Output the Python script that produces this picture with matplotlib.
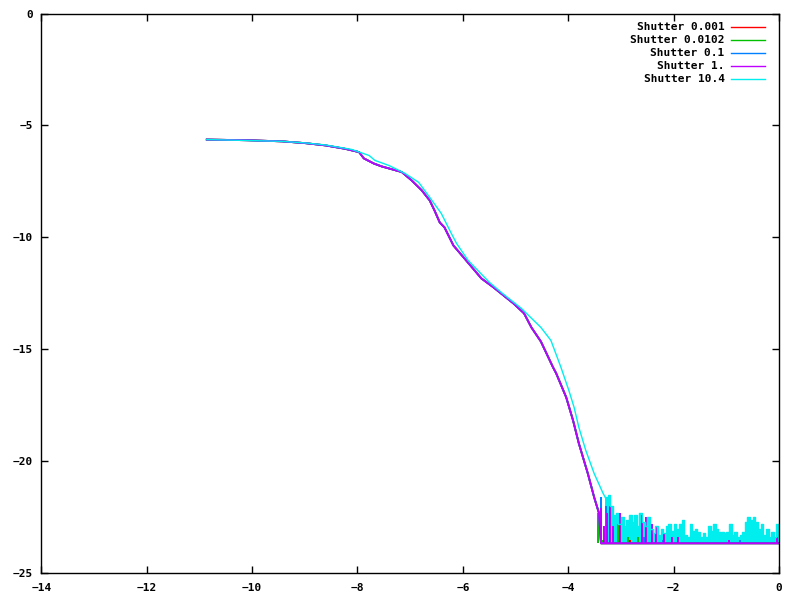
import matplotlib
matplotlib.use("Agg")
import matplotlib.pyplot as plt
import numpy as np

FLOOR = -23.66

labels = ["Shutter 0.001", "Shutter 0.0102", "Shutter 0.1", "Shutter 1.", "Shutter 10.4"]
colors = ["#ff0000", "#00c000", "#0080ff", "#c000ff", "#00eeee"]

# main decay curve (shared by the four short shutters)
main_x = [-10.86, -10.09, -9.43, -8.99, -8.61, -8.24, -7.97, -7.88, -7.69, -7.54,
          -7.16, -6.97, -6.78, -6.63, -6.54, -6.44, -6.35, -6.18, -5.97, -5.65,
          -5.42, -5.04, -4.84, -4.70, -4.52, -4.29, -4.23, -4.04, -3.91, -3.80,
          -3.63, -3.51, -3.42, -3.38, 0.0]
main_y = [-5.63, -5.66, -5.71, -5.79, -5.89, -6.04, -6.19, -6.47, -6.70, -6.83,
          -7.08, -7.46, -7.90, -8.35, -8.79, -9.33, -9.55, -10.36, -10.94, -11.83,
          -12.23, -12.95, -13.39, -14.02, -14.65, -15.80, -16.07, -17.14, -18.17, -19.20,
          -20.54, -21.60, -22.30, -23.66, -23.66]

# cyan (10.4) curve
cyan_x = [-10.86, -10.09, -9.43, -8.99, -8.61, -8.11, -7.78, -7.67, -7.40, -7.10,
          -6.84, -6.63, -6.41, -6.22, -6.12, -5.90, -5.50, -5.27, -4.89, -4.52,
          -4.33, -4.14, -3.99, -3.89, -3.80, -3.67, -3.51, -3.34]
cyan_y = [-5.63, -5.67, -5.71, -5.78, -5.87, -6.07, -6.34, -6.56, -6.79, -7.14,
          -7.54, -8.21, -8.93, -9.82, -10.27, -11.03, -12.00, -12.46, -13.17, -14.02,
          -14.60, -15.80, -16.83, -17.59, -18.48, -19.50, -20.54, -21.43]

# cyan noise tops on the floor, x = -3.30 ... 0.00 every 0.05
cyan_noise_x = [round(-3.30 + 0.05 * k, 2) for k in range(67)]
cyan_noise_top = [-21.6, -21.5, -22.0, -22.4, -22.3, -22.8, -22.5, -22.9, -22.6, -22.4,
                  -22.7, -22.4, -22.9, -22.3, -22.7, -22.9, -22.5, -23.0, -23.2, -22.9,
                  -23.3, -23.0, -23.2, -22.9, -22.8, -23.1, -22.8, -23.0, -22.8, -22.6,
                  -23.3, -23.4, -22.8, -23.1, -23.0, -23.15, -23.4, -23.2, -23.4, -22.9,
                  -23.1, -22.8, -23.0, -23.15, -23.15, -23.2, -23.15, -22.8, -23.3, -23.15,
                  -23.4, -23.3, -23.15, -22.7, -22.5, -22.6, -22.5, -22.7, -23.0, -22.8,
                  -23.3, -23.0, -23.4, -23.15, -23.4, -22.8, -23.3]

# spikes of the other series near the floor
red_spike_x = [-3.38, -3.31, -3.01, -2.82]
red_spike_y = [-22.2, -23.2, -22.8, -23.5]
green_spike_x = [-3.44, -3.36, -3.06, -2.87, -2.68]
green_spike_y = [-22.3, -23.5, -22.8, -23.4, -23.4]
blue_spike_x = [-3.38, -3.29, -3.16, -2.57, -2.21, -0.74]
blue_spike_y = [-21.6, -22.0, -23.2, -23.4, -23.5, -23.5]
magenta_spike_x = [-3.38, -3.33, -3.27, -3.21, -3.16, -3.01, -2.61, -2.53, -2.42,
                   -2.33, -2.19, -2.04, -1.91, -0.96, -0.04]
magenta_spike_y = [-22.1, -22.9, -22.3, -22.0, -22.9, -22.3, -22.4, -22.5, -22.8,
                   -22.9, -23.2, -23.4, -23.4, -23.5, -23.4]

x_ticks = [-14, -12, -10, -8, -6, -4, -2, 0]
y_ticks = [-25, -20, -15, -10, -5, 0]

plt.rcParams['font.family'] = ['DejaVu Sans Mono']
plt.rcParams['font.weight'] = 'bold'

fig = plt.figure(figsize=(8, 6), dpi=100)
ax = fig.add_axes([41.3 / 800, 26.7 / 600, 737.8 / 800, 559.8 / 600])

spikes = [(red_spike_x, red_spike_y), (green_spike_x, green_spike_y),
          (blue_spike_x, blue_spike_y), (magenta_spike_x, magenta_spike_y)]
for i in range(4):
    ax.plot(main_x, main_y, color=colors[i], lw=1.3, label=labels[i])
    sx, sy = spikes[i]
    ax.vlines(sx, FLOOR, sy, color=colors[i], lw=1.4)

ax.plot(cyan_x + [cyan_noise_x[0]], cyan_y + [cyan_noise_top[0]],
        color=colors[4], lw=1.0, label=labels[4])
ax.plot(cyan_noise_x, cyan_noise_top, color=colors[4], lw=1.0, drawstyle='steps-post')
ax.fill_between(cyan_noise_x, FLOOR, cyan_noise_top, step='post', color=colors[4], lw=0)

ax.set_xlim(-14, 0)
ax.set_ylim(-25, 0)
ax.set_xticks(x_ticks)
ax.set_yticks(y_ticks)
ax.tick_params(direction='in', length=5, width=1, top=True, right=True, labelsize=8)
ax.tick_params(axis='x', pad=7)
ax.tick_params(axis='y', pad=6)
for s in ax.spines.values():
    s.set_linewidth(1)

leg = ax.legend(loc='upper right', frameon=False, markerfirst=False, fontsize=8,
                handlelength=3.0, handletextpad=0.6, labelspacing=0.27,
                borderaxespad=0.3, bbox_to_anchor=(0.991, 0.998))
for h in leg.legend_handles:
    h.set_linewidth(1.0)

fig.savefig("out.png", dpi=100)
